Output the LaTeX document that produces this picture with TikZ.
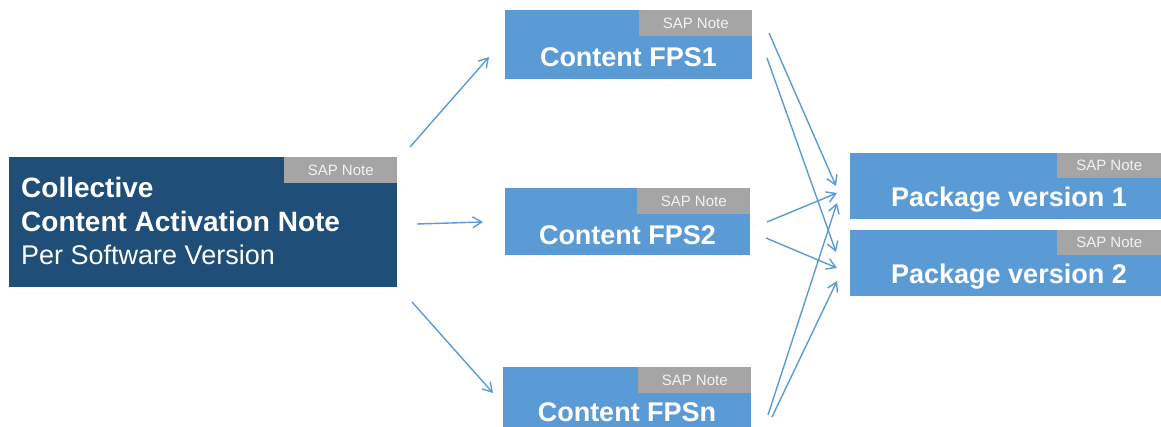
\documentclass[tikz,border=0pt]{standalone}
\usepackage{fontspec}
\setmainfont{Liberation Sans}
\usetikzlibrary{arrows.meta}
\definecolor{darkblue}{HTML}{1F4E79}
\definecolor{midblue}{HTML}{5B9BD5}
\definecolor{taggray}{HTML}{A5A5A5}
\definecolor{tagtext}{HTML}{F2F2F2}
\begin{document}
\begin{tikzpicture}[x=1pt,y=-1pt,
  box/.style={fill=midblue, draw=none, inner sep=0pt, anchor=north west},
  darkbox/.style={fill=darkblue, draw=none, inner sep=0pt, anchor=north west},
  tag/.style={fill=taggray, text=tagtext, inner sep=0pt, anchor=north east,
    minimum width=113pt, minimum height=26pt, font=\fontsize{15}{15}\selectfont},
  title/.style={text=white, inner sep=0pt, anchor=base, font=\bfseries\fontsize{27}{27}\selectfont},
  ltitle/.style={text=white, inner sep=0pt, anchor=base west},
  arr/.style={draw=midblue, line width=1.4pt, -{Straight Barb[length=9pt,width=11pt]}}]
\useasboundingbox (0,0) rectangle (1161,427);

% left box
\node[darkbox, minimum width=388pt, minimum height=130pt] (coll) at (9,157) {};
\node[tag] (colltag) at (coll.north east) {SAP Note};
\node[ltitle, font=\bfseries\fontsize{28}{28}\selectfont] (c1) at (21,198) {Collective};
\node[ltitle, font=\bfseries\fontsize{28}{28}\selectfont] (c2) at (21,232) {Content Activation Note};
\node[ltitle, font=\fontsize{27}{27}\selectfont] (c3) at (21,265) {Per Software Version};

% middle boxes
\node[box, minimum width=247pt, minimum height=69pt] (fps1) at (505,10) {};
\node[tag] (fps1tag) at (fps1.north east) {SAP Note};
\node[title] (fps1t) at (628.5,67) {Content FPS1};

\node[box, minimum width=245pt, minimum height=67pt] (fps2) at (505,188) {};
\node[tag] (fps2tag) at (fps2.north east) {SAP Note};
\node[title] (fps2t) at (627.5,245) {Content FPS2};

\node[box, minimum width=248pt, minimum height=60pt] (fpsn) at (503,367) {};
\node[tag] (fpsntag) at (fpsn.north east) {SAP Note};
\node[title] (fpsnt) at (627,421) {Content FPSn};

% right boxes
\node[box, minimum width=311pt, minimum height=66pt] (pkg1) at (850,153) {};
\node[tag, minimum width=104pt, minimum height=25pt] (pkg1tag) at (pkg1.north east) {SAP Note};
\node[title] (pkg1t) at (1009,207) {Package version 1};

\node[box, minimum width=311pt, minimum height=66pt] (pkg2) at (850,230) {};
\node[tag, minimum width=104pt, minimum height=25pt] (pkg2tag) at (pkg2.north east) {SAP Note};
\node[title] (pkg2t) at (1009,284) {Package version 2};

% connector end points
\coordinate (cf1s) at (410,147);  \coordinate (cf1e) at (489,57);
\coordinate (cf2s) at (417,224);  \coordinate (cf2e) at (483,222);
\coordinate (cfns) at (412,302);  \coordinate (cfne) at (493,393);
\coordinate (f1a) at (769,33);   \coordinate (p1a) at (836,186);
\coordinate (f1b) at (767,58);   \coordinate (p2a) at (836,252);
\coordinate (f2a) at (767,222);  \coordinate (p1b) at (837,193);
\coordinate (f2b) at (766,238);  \coordinate (p2b) at (837,268);
\coordinate (fna) at (768,415);  \coordinate (p1c) at (837,203);
\coordinate (fnb) at (772,417);  \coordinate (p2c) at (837,281);

\draw[arr] (cf1s) -- (cf1e);
\draw[arr] (cf2s) -- (cf2e);
\draw[arr] (cfns) -- (cfne);
\draw[arr] (f1a) -- (p1a);
\draw[arr] (f1b) -- (p2a);
\draw[arr] (f2a) -- (p1b);
\draw[arr] (f2b) -- (p2b);
\draw[arr] (fna) -- (p1c);
\draw[arr] (fnb) -- (p2c);
\end{tikzpicture}
\end{document}
